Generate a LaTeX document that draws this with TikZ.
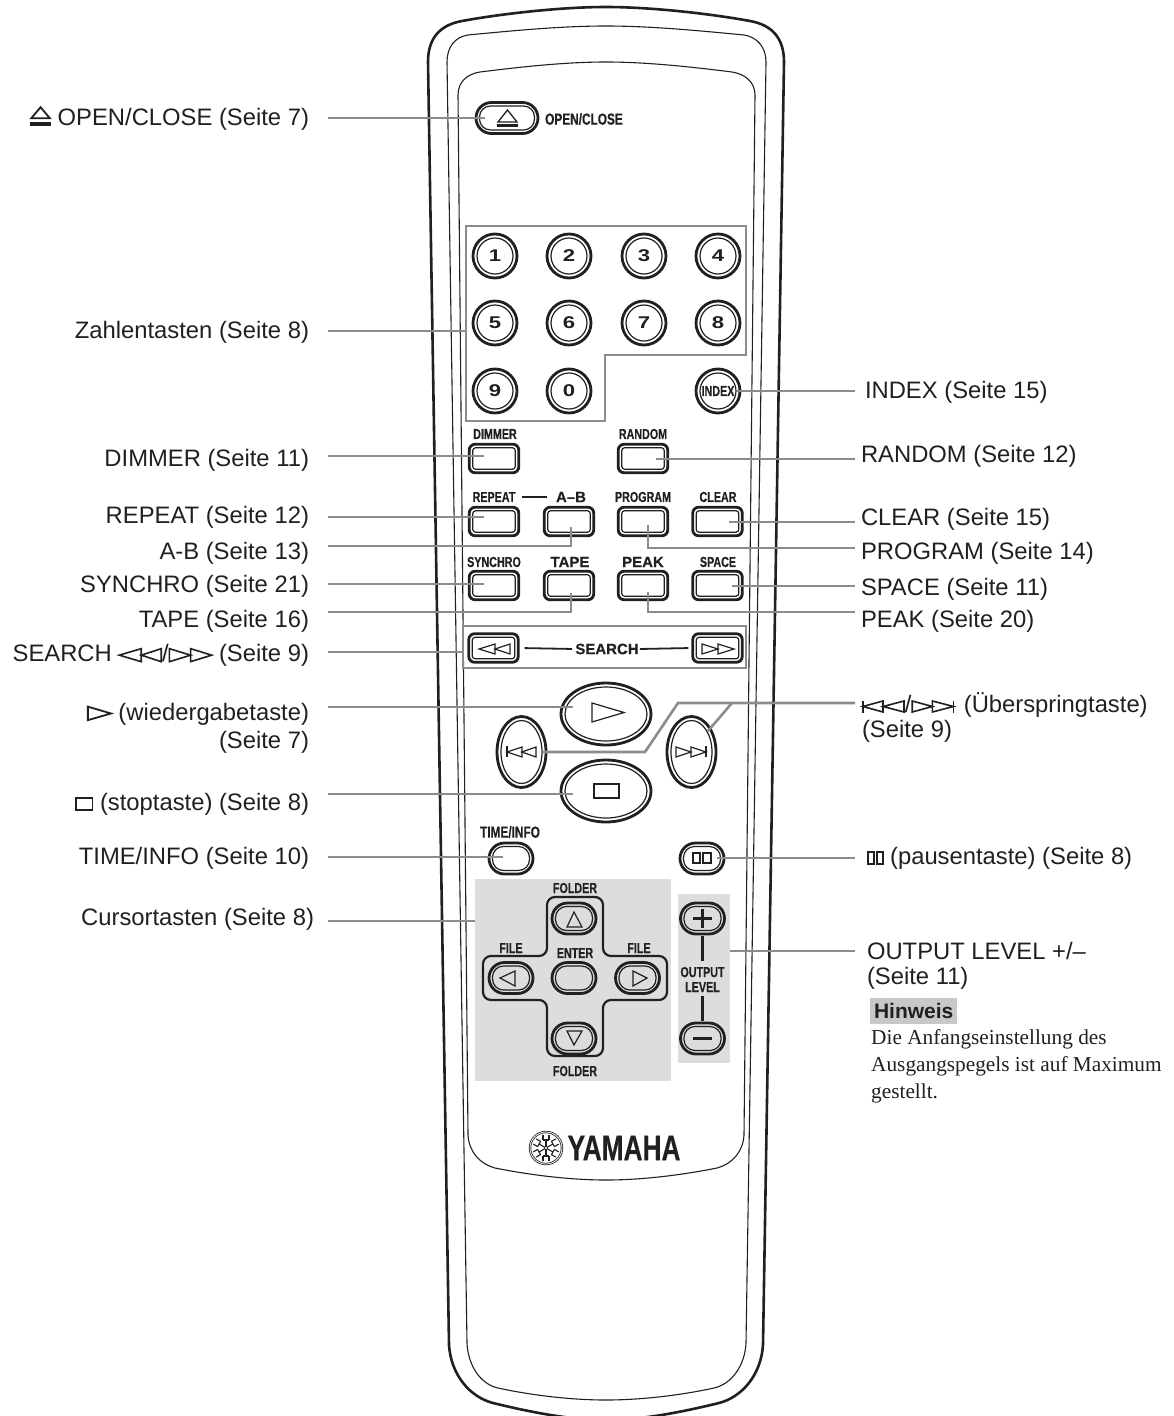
\documentclass[tikz,border=0pt]{standalone}
\usepackage{fontspec}
\setmainfont{Liberation Sans}
\newfontfamily\notefont{Liberation Serif}
\newfontfamily\keyfont[FakeStretch=0.74,BoldFeatures={FakeBold=0.35}]{Liberation Sans}
\newfontfamily\widefont[BoldFeatures={FakeBold=0.3}]{Liberation Sans}
\newfontfamily\digitfont[FakeStretch=1.3]{Liberation Sans}
\usetikzlibrary{positioning,shapes.geometric,shapes.misc}
\definecolor{Ink}{RGB}{35,31,32}
\definecolor{LeaderGray}{RGB}{140,140,140}
\definecolor{PanelGray}{RGB}{220,221,223}
\definecolor{NoteGray}{RGB}{200,200,200}

\newcommand{\symeject}{\tikz[x=1pt,y=1pt,baseline=-2pt,line width=1.8pt,line join=miter]{\draw (1.2,5.5)--(10.5,16.5)--(19.8,5.5)--cycle; \fill (0,-2) rectangle (21,2);}}
\newcommand{\symplay}{\tikz[x=1pt,y=1pt,baseline=0pt,line width=1.8pt,line join=miter]{\draw (0.9,0.5)--(0.9,14)--(24,7.2)--cycle;}}
\newcommand{\symstop}{\tikz[x=1pt,y=1pt,baseline=0pt,line width=1.8pt]{\draw (0.9,0.5) rectangle (17.5,12.5);}}
\newcommand{\symrev}{\tikz[x=1pt,y=1pt,baseline=0pt,line width=1.6pt,line join=miter]{\draw (0,6.5)--(22,0)--(22,13)--cycle; \draw (22,6.5)--(42,0)--(42,13)--cycle;}}
\newcommand{\symfwd}{\tikz[x=1pt,y=1pt,baseline=0pt,line width=1.6pt,line join=miter]{\draw (0.8,0)--(0.8,13)--(22,6.5)--cycle; \draw (22,0)--(22,13)--(43,6.5)--cycle;}}
\newcommand{\symprev}{\tikz[x=1pt,y=1pt,baseline=0pt,line width=1.6pt,line join=miter]{\draw (0.8,0)--(0.8,12); \draw (0.8,6)--(21,0.5)--(21,11.5)--cycle; \draw (21,6)--(42,0.5)--(42,11.5)--cycle;}}
\newcommand{\symnext}{\tikz[x=1pt,y=1pt,baseline=0pt,line width=1.6pt,line join=miter]{\draw (0.8,0.5)--(0.8,11.5)--(21,6)--cycle; \draw (21,0.5)--(21,11.5)--(42,6)--cycle; \draw (42,0)--(42,12);}}
\newcommand{\sympause}{\tikz[x=1pt,y=1pt,baseline=-1pt,line width=2pt]{\draw (1,0) rectangle (6.5,11.5); \draw (10,0) rectangle (15.5,11.5);}}

\begin{document}
\begin{tikzpicture}[
    x=1pt,y=-1pt,
    shellout/.style={draw=Ink,line width=2.6pt},
    shellin/.style={draw=Ink,line width=1.1pt},
    keyround/.style={circle,draw=Ink,line width=2.8pt,minimum size=44pt,inner sep=0pt,
                     path picture={\draw[Ink,line width=1.2pt] (path picture bounding box.center) circle (18pt);}},
    keyrect/.style={rectangle,draw=Ink,line width=2.8pt,rounded corners=6pt,minimum width=49.6pt,minimum height=28.6pt,inner sep=0pt,
                    path picture={\draw[Ink,line width=1.2pt,rounded corners=3pt]
                      ([shift={(3.5pt,3.5pt)}]path picture bounding box.south west) rectangle
                      ([shift={(-3.5pt,-3.5pt)}]path picture bounding box.north east);}},
    keypill/.style={rounded rectangle,draw=Ink,line width=2.8pt,minimum width=#1,minimum height=31pt,inner sep=0pt,
                    path picture={\draw[Ink,line width=1.2pt,rounded corners=11pt]
                      ([shift={(3.5pt,3.5pt)}]path picture bounding box.south west) rectangle
                      ([shift={(-3.5pt,-3.5pt)}]path picture bounding box.north east);}},
    keyoval/.style n args={2}{ellipse,draw=Ink,line width=2.8pt,minimum width=#1,minimum height=#2,inner sep=0pt,
                    path picture={\draw[Ink,line width=1.2pt] (path picture bounding box.center)
                      ellipse [x radius={#1/2-4},y radius={#2/2-4}];}},
    digit/.style={font=\fontsize{17}{18}\digitfont\bfseries\selectfont,text=Ink},
    capt/.style={font=\fontsize{14.5}{15}\keyfont\bfseries\selectfont,text=Ink,inner sep=0pt},
    captwide/.style={font=\fontsize{15}{16}\widefont\bfseries\selectfont,text=Ink,inner sep=0pt},
    glyph/.style={draw=Ink,line width=1.2pt,line join=miter},
    tie/.style={draw=Ink,line width=2.2pt},
    frame/.style={draw=LeaderGray,line width=2.2pt},
    panel/.style={fill=PanelGray,inner sep=0pt},
    leader/.style={draw=LeaderGray,line width=2.6pt,line join=miter},
    lblleft/.style={font=\fontsize{23.8}{25}\selectfont,text=Ink,anchor=east,align=right,inner sep=0pt,outer xsep=19pt,yshift=-1.5pt},
    lblright/.style={font=\fontsize{23.8}{25}\selectfont,text=Ink,anchor=west,align=left,inner sep=0pt,outer xsep=6pt,yshift=-1.5pt},
    forkray/.pic={\draw[Ink,line width=1.1pt] (1,0) -- (8,0) (8,-3) -- (8,3) (8,-3) -- (13,-3) (8,3) -- (13,3);}
]
\useasboundingbox (0,0) rectangle (1173,1416);
\clip (0,0) rectangle (1173,1416);

% Remote body
\draw[shellout] (606,7) .. controls (560,7) and (500,14) .. (462,21) .. controls (440,25) and (428,38) .. (428,62)
    -- (449,1345) .. controls (451,1375) and (470,1397) .. (493,1403) .. controls (530,1412) and (570,1420) .. (606,1420)
    .. controls (642,1420) and (682,1412) .. (719,1403) .. controls (742,1397) and (761,1375) .. (763,1345)
    -- (784,62) .. controls (784,38) and (772,25) .. (750,21) .. controls (712,14) and (652,7) .. (606,7) -- cycle;
\draw[shellin] (606,26) .. controls (560,26) and (510,31) .. (468,35) .. controls (455,37) and (447,47) .. (447,62)
    -- (467,1343) .. controls (468,1365) and (480,1384) .. (498,1388) .. controls (530,1395) and (570,1400) .. (606,1400)
    .. controls (642,1400) and (682,1395) .. (714,1388) .. controls (732,1384) and (745,1365) .. (746,1343)
    -- (766,62) .. controls (766,47) and (757,37) .. (744,35) .. controls (702,31) and (652,26) .. (606,26) -- cycle;
\draw[shellin] (606,62) .. controls (565,62) and (520,67) .. (480,72) .. controls (467,74) and (458,82) .. (458,95)
    -- (468,1135) .. controls (469,1152) and (480,1164) .. (495,1168) .. controls (530,1175) and (570,1180) .. (606,1180)
    .. controls (642,1180) and (682,1175) .. (717,1168) .. controls (732,1164) and (743,1152) .. (744,1135)
    -- (755,95) .. controls (755,82) and (745,74) .. (732,72) .. controls (692,67) and (647,62) .. (606,62) -- cycle;

% Open/close
\node[keypill=62pt] (btnopen) at (507,118) {};
\draw[glyph,line width=1.3pt] (498,122) -- (507.5,110) -- (517,122) -- cycle;
\fill[Ink] (497,124) rectangle (518,127);
\node[capt,font=\fontsize{16}{17}\keyfont\bfseries\selectfont] (captopen) at (584,119) {OPEN/CLOSE};

% Number keys
\coordinate (tipnumber) at (466,331);
\draw[frame] (466,226) -- (746,226) -- (746,355) -- (605,355) -- (605,421) -- (466,421) -- cycle;
\node[keyround,digit] (key1) at (495,256) {1};
\node[keyround,digit] (key2) at (569,256) {2};
\node[keyround,digit] (key3) at (644,256) {3};
\node[keyround,digit] (key4) at (718,256) {4};
\node[keyround,digit] (key5) at (495,323) {5};
\node[keyround,digit] (key6) at (569,323) {6};
\node[keyround,digit] (key7) at (644,323) {7};
\node[keyround,digit] (key8) at (718,323) {8};
\node[keyround,digit] (key9) at (495,391) {9};
\node[keyround,digit] (key0) at (569,391) {0};
\node[keyround,capt] (keyindex) at (718,391) {INDEX};

% Rectangular keys
\node[capt] (captdimmer) at (495,434) {DIMMER};
\node[keyrect] (btndimmer) at (494,458.5) {};
\node[capt] (captrandom) at (643,434) {RANDOM};
\node[keyrect] (btnrandom) at (643,458.5) {};
\node[capt] (captrepeat) at (494,497) {REPEAT};
\node[keyrect] (btnrepeat) at (494,521.5) {};
\node[captwide] (captab) at (571,497) {A–B};
\node[keyrect] (btnab) at (569,521.5) {};
\node[capt] (captprogram) at (643,497) {PROGRAM};
\node[keyrect] (btnprogram) at (643,521.5) {};
\node[capt] (captclear) at (718,497) {CLEAR};
\node[keyrect] (btnclear) at (717.5,521.5) {};
\node[capt] (captsynchro) at (494,562) {SYNCHRO};
\node[keyrect] (btnsynchro) at (494,585.5) {};
\node[captwide] (capttape) at (570,562) {TAPE};
\node[keyrect] (btntape) at (569,585.5) {};
\node[captwide] (captpeak) at (643,562) {PEAK};
\node[keyrect] (btnpeak) at (643,585.5) {};
\node[capt] (captspace) at (718,562) {SPACE};
\node[keyrect] (btnspace) at (717.5,585.5) {};
\draw[tie,shorten <=6pt,shorten >=9pt] (captrepeat.east) -- (captab.west);

% Search
\node[draw=LeaderGray,line width=2.2pt,minimum width=283pt,minimum height=42pt,inner sep=0pt] (framesearch) at (604.5,647) {};
\node[keyrect] (btnrew) at (493.5,648) {};
\node[keyrect] (btnfwd) at (717.5,648) {};
\node[captwide] (captsearch) at (607,649) {SEARCH};
\draw[glyph] (479,649) -- (495,644) -- (495,654) -- cycle;
\draw[glyph] (495,649) -- (510,644) -- (510,654) -- cycle;
\draw[glyph] (702,644) -- (702,654) -- (718,649) -- cycle;
\draw[glyph] (718,644) -- (718,654) -- (734,649) -- cycle;
\draw[tie,line width=1.8pt,shorten <=5pt,shorten >=3pt] (btnrew.east) -- (captsearch.west);
\draw[tie,line width=1.8pt,shorten <=1pt,shorten >=3pt] (captsearch.east) -- (btnfwd.west);

% Transport keys
\node[keyoval={90pt}{62pt}] (btnplay) at (606,714) {};
\node[keyoval={90pt}{62pt}] (btnstop) at (606,791) {};
\node[keyoval={49pt}{71pt}] (btnprev) at (521.5,752) {};
\node[keyoval={49pt}{71pt}] (btnnext) at (691.5,752) {};
\draw[glyph] (592,703) -- (592,722) -- (624,712.5) -- cycle;
\draw[glyph] (594,784) rectangle (619,798);
\draw[glyph,line width=2pt] (507,746) -- (507,757);
\draw[glyph] (507,752) -- (522,747) -- (522,757) -- cycle;
\draw[glyph] (522,752) -- (536,747) -- (536,757) -- cycle;
\draw[glyph] (676,747) -- (676,757) -- (691,752) -- cycle;
\draw[glyph] (691,747) -- (691,757) -- (706,752) -- cycle;
\draw[glyph,line width=2pt] (706,746) -- (706,757);

% Time/info and pause
\node[capt,font=\fontsize{16}{17}\keyfont\bfseries\selectfont] (capttime) at (510,832) {TIME/INFO};
\node[keypill=44pt] (btntime) at (511,858.5) {};
\node[keypill=44pt] (btnpause) at (702,858.5) {};
\draw[glyph] (693,853) rectangle (700,863);
\draw[glyph] (703,853) rectangle (711,863);

% Cursor keys
\node[panel,minimum width=196pt,minimum height=202pt] (panelcursor) at (573,980) {};
\draw[tie,rounded corners=8pt] (547,897) -- (603,897) -- (603,956) -- (667,956) -- (667,1000) -- (603,1000)
    -- (603,1056) -- (547,1056) -- (547,1000) -- (483,1000) -- (483,956) -- (547,956) -- cycle;
\node[keypill=44pt] (btnup) at (574,918.5) {};
\node[keypill=44pt] (btnenter) at (574,978) {};
\node[keypill=44pt] (btnleft) at (511,978) {};
\node[keypill=44pt] (btnright) at (637.5,978) {};
\node[keypill=44pt] (btndown) at (574,1038.5) {};
\draw[glyph] (574,912) -- (567,927) -- (582,927) -- cycle;
\draw[glyph] (500,978) -- (515,971) -- (515,986) -- cycle;
\draw[glyph] (633,971) -- (633,986) -- (647,978) -- cycle;
\draw[glyph] (567,1031) -- (582,1031) -- (574,1045) -- cycle;
\node[capt] (captfolderup) at (575,888) {FOLDER};
\node[capt] (captfileleft) at (511,948) {FILE};
\node[capt] (captenter) at (575,953) {ENTER};
\node[capt] (captfileright) at (639,948) {FILE};
\node[capt] (captfolderdown) at (575,1071) {FOLDER};

% Output level
\node[panel,minimum width=52pt,minimum height=169pt] (paneloutput) at (704,978.5) {};
\node[keypill=44pt] (btnplus) at (702.5,918.5) {};
\node[keypill=44pt] (btnminus) at (702.5,1038.5) {};
\draw[tie,line width=2.4pt] (693,918.5) -- (712,918.5) (702.5,909) -- (702.5,928);
\draw[tie,line width=2.4pt] (693,1038.5) -- (712,1038.5);
\node[capt,align=center] (captoutput) at (702.5,979.5) {OUTPUT\\LEVEL};
\draw[tie,shorten <=1pt,shorten >=6pt] (btnplus.south) -- (captoutput.north);
\draw[tie,shorten <=1pt,shorten >=4pt] (btnminus.north) -- (captoutput.south);

% Logo
\node[circle,draw=Ink,line width=.8pt,double=white,double distance=.8pt,minimum size=32pt,inner sep=0pt] (logo) at (546,1148) {};
\pic[rotate=30] at (logo) {forkray};
\pic[rotate=90] at (logo) {forkray};
\pic[rotate=150] at (logo) {forkray};
\pic[rotate=210] at (logo) {forkray};
\pic[rotate=270] at (logo) {forkray};
\pic[rotate=330] at (logo) {forkray};
\node[capt,font=\fontsize{35.5}{36}\keyfont\bfseries\selectfont,right=5pt of logo] (brand) {YAMAHA};

% Left labels
\node[lblleft] (lblopen) at (328,117) {\symeject\ OPEN/CLOSE (Seite 7)};
\node[lblleft] (lblnumber) at (328,331) {Zahlentasten (Seite 8)};
\node[lblleft] (lbldimmer) at (328,459) {DIMMER (Seite 11)};
\node[lblleft] (lblrepeat) at (328,516) {REPEAT (Seite 12)};
\node[lblleft] (lblab) at (328,552) {A-B (Seite 13)};
\node[lblleft] (lblsynchro) at (328,585) {SYNCHRO (Seite 21)};
\node[lblleft] (lbltape) at (328,620) {TAPE (Seite 16)};
\node[lblleft] (lblsearch) at (328,654) {SEARCH \symrev/\symfwd\ (Seite 9)};
\node[lblleft] (lblplay) at (328,727) {\symplay\ (wiedergabetaste)\\[3pt](Seite 7)};
\node[lblleft] (lblstop) at (328,803) {\symstop\ (stoptaste) (Seite 8)};
\node[lblleft] (lbltime) at (328,857) {TIME/INFO (Seite 10)};
\node[lblleft,outer xsep=14pt] (lblcursor) at (328,918) {Cursortasten (Seite 8)};

% Right labels
\node[lblright,outer xsep=10pt] (lblindex) at (855,391) {INDEX (Seite 15)};
\node[lblright] (lblrandom) at (855,455) {RANDOM (Seite 12)};
\node[lblright] (lblclear) at (855,518) {CLEAR (Seite 15)};
\node[lblright] (lblprogram) at (855,552) {PROGRAM (Seite 14)};
\node[lblright] (lblspace) at (855,588) {SPACE (Seite 11)};
\node[lblright] (lblpeak) at (855,620) {PEAK (Seite 20)};
\node[lblright,outer xsep=7pt] (lblskip) at (855,716) {\symprev/\symnext\hspace{3pt}\ (Überspringtaste)\\(Seite 9)};
\node[lblright,outer xsep=12pt] (lblpause) at (855,857) {\sympause\ (pausentaste) (Seite 8)};
\node[lblright,outer xsep=12pt] (lbloutput) at (855,964) {OUTPUT LEVEL +/--\\(Seite 11)};

% Note
\node[fill=NoteGray,anchor=west,minimum width=87pt,minimum height=26pt,inner sep=0pt] (notehead) at (870,1011) {};
\node[font=\fontsize{21}{23}\bfseries\selectfont,text=Ink,inner sep=0pt] (notetitle) at (notehead) {Hinweis};
\node[font=\fontsize{21.3}{27}\notefont\selectfont,text=Ink,align=left,inner sep=0pt,below right=5pt and 1pt of notehead.south west] (notebody) {Die Anfangseinstellung des\\Ausgangspegels ist auf Maximum\\gestellt.};

% Leader tips
\coordinate (tipopen) at (485,118);
\coordinate (tipdimmer) at (484,456);
\coordinate (tiprandom) at (656,459);
\coordinate (tiprepeat) at (484,517);
\coordinate (tipclear) at (729,522);
\coordinate (tipab) at (571,527);
\coordinate (bendab) at (571,546);
\coordinate (tipprogram) at (648,525);
\coordinate (bendprogram) at (648,548);
\coordinate (tipsynchro) at (484,584);
\coordinate (tipspace) at (732,586);
\coordinate (tiptape) at (571,593);
\coordinate (bendtape) at (571,612);
\coordinate (tippeak) at (648,592);
\coordinate (bendpeak) at (648,612);
\coordinate (tipsearch) at (463,652);
\coordinate (tipplay) at (573,707);
\coordinate (tipstop) at (573,794);
\coordinate (tipprev) at (542,752);
\coordinate (bendprev) at (645,752);
\coordinate (bendskip) at (678,703);
\coordinate (tipnext) at (708,731);
\coordinate (forknext) at (732,703);
\coordinate (tiptime) at (503,857);
\coordinate (tippause) at (717,858);
\coordinate (tipindex) at (737,391);

% Leaders
\draw[leader] (lblopen.east |- tipopen) -- (tipopen);
\draw[leader] (lblnumber.east |- tipnumber) -- (tipnumber);
\draw[leader] (lbldimmer.east |- tipdimmer) -- (tipdimmer);
\draw[leader] (lblrepeat.east |- tiprepeat) -- (tiprepeat);
\draw[leader] (lblab.east |- bendab) -- (bendab) -- (tipab);
\draw[leader] (lblsynchro.east |- tipsynchro) -- (tipsynchro);
\draw[leader] (lbltape.east |- bendtape) -- (bendtape) -- (tiptape);
\draw[leader] (lblsearch.east |- tipsearch) -- (tipsearch);
\draw[leader] (lblplay.east |- tipplay) -- (tipplay);
\draw[leader] (lblstop.east |- tipstop) -- (tipstop);
\draw[leader] (lbltime.east |- tiptime) -- (tiptime);
\draw[leader] (lblcursor.east |- 0,921) -- (panelcursor.west |- 0,921);
\draw[leader] (tipindex) -- (lblindex.west |- tipindex);
\draw[leader] (tiprandom) -- (lblrandom.west |- tiprandom);
\draw[leader] (tipclear) -- (lblclear.west |- tipclear);
\draw[leader] (tipprogram) -- (bendprogram) -- (lblprogram.west |- bendprogram);
\draw[leader] (tipspace) -- (lblspace.west |- tipspace);
\draw[leader] (tippeak) -- (bendpeak) -- (lblpeak.west |- bendpeak);
\draw[leader] (tipprev) -- (bendprev) -- (bendskip) -- (lblskip.west |- bendskip);
\draw[leader] (tipnext) -- (forknext);
\draw[leader] (tippause) -- (lblpause.west |- tippause);
\draw[leader] (paneloutput.east |- 0,951) -- (lbloutput.west |- 0,951);

\end{tikzpicture}
\end{document}
